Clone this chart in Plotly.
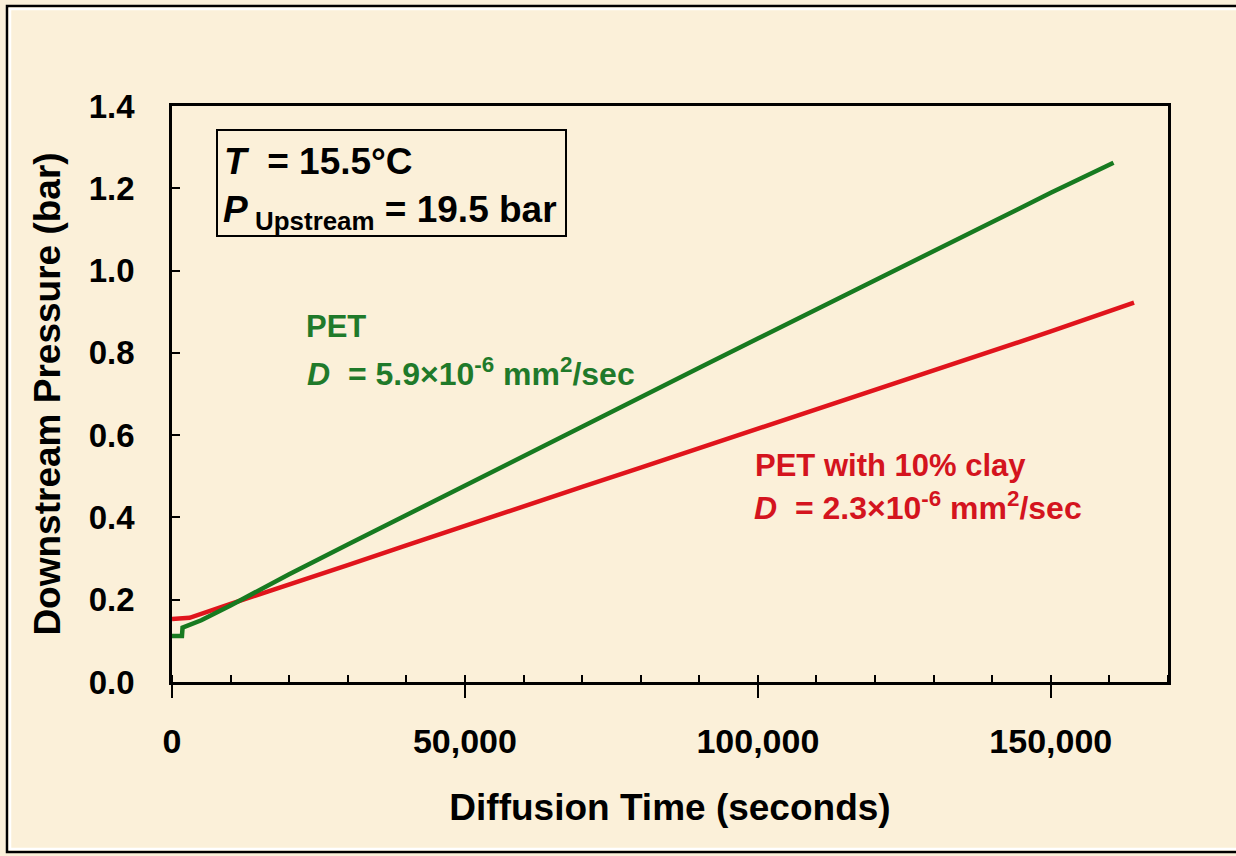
import plotly.graph_objects as go

# ---- data ----
pet_time = [0, 1700, 1800, 5000, 10000, 20000, 30000, 40000, 50000, 60000, 70000,
            80000, 90000, 100000, 110000, 120000, 130000, 140000, 150000, 160700]
pet_pressure = [0.112, 0.112, 0.132, 0.150, 0.186, 0.262, 0.334, 0.406, 0.479, 0.550, 0.622,
                0.694, 0.764, 0.835, 0.905, 0.976, 1.047, 1.118, 1.189, 1.262]

clay_time = [0, 3000, 10000, 20000, 30000, 40000, 50000, 60000, 70000, 80000, 90000,
             100000, 110000, 120000, 130000, 140000, 150000, 164200]
clay_pressure = [0.153, 0.156, 0.190, 0.236, 0.284, 0.332, 0.380, 0.427, 0.474, 0.521, 0.568,
                 0.616, 0.663, 0.710, 0.757, 0.804, 0.852, 0.922]

x_tickvals = [0, 50000, 100000, 150000]
y_tickvals = [0.0, 0.2, 0.4, 0.6, 0.8, 1.0, 1.2, 1.4]

GREEN_LINE = "#177A20"
GREEN_TEXT = "#1F7A2A"
RED_LINE = "#E0141C"
RED_TEXT = "#D4141E"
BG = "#FBF0D9"
FONT = "Arial, Liberation Sans, sans-serif"
NB = "\u00a0"
THIN = "\u2009"

fig = go.Figure()
fig.add_trace(go.Scatter(x=clay_time, y=clay_pressure, mode="lines",
                         line=dict(color=RED_LINE, width=4.5), showlegend=False))
fig.add_trace(go.Scatter(x=pet_time, y=pet_pressure, mode="lines",
                         line=dict(color=GREEN_LINE, width=4.5), showlegend=False))

# plot area: l=172, r=68, t=106, b=174 -> 996 x 576 px
L, R, T, B = 172, 68, 106, 174
W, H = 1236, 856
pw, ph = W - L - R, H - T - B

def px(xp):
    return (xp - L) / pw

def py(yp):
    return (H - B - yp) / ph

fig.update_layout(
    width=W, height=H,
    margin=dict(l=L, r=R, t=T, b=B),
    paper_bgcolor=BG, plot_bgcolor=BG,
    font=dict(family=FONT, color="black"),
    xaxis=dict(
        range=[0, 170000], tickvals=x_tickvals, tickformat=",d",
        ticks="outside", ticklen=13, tickwidth=1.5, tickcolor="black",
        minor=dict(dtick=10000, ticks="inside", ticklen=7, tickwidth=1.5, tickcolor="black"),
        showline=True, linecolor="black", linewidth=2.5, mirror=True,
        showgrid=False, zeroline=False,
        tickfont=dict(size=34, family=FONT, color="black", weight="bold"),
        ticklabelstandoff=14,
        title=dict(text="<b>Diffusion Time (seconds)</b>", font=dict(size=37, family=FONT),
                   standoff=36),
    ),
    yaxis=dict(
        range=[0, 1.4], tickvals=y_tickvals, tickformat=".1f",
        ticks="inside", ticklen=8, tickwidth=1.5, tickcolor="black",
        showline=True, linecolor="black", linewidth=2.5, mirror=True,
        showgrid=False, zeroline=False,
        tickfont=dict(size=33, family=FONT, color="black", weight="bold"),
        ticklabelstandoff=28,
        title=dict(text="<b>Downstream Pressure (bar)</b>", font=dict(size=37, family=FONT),
                   standoff=17),
    ),
)

# outer slide frame
fig.add_shape(type="rect", xref="paper", yref="paper",
              x0=px(7), x1=px(1245), y0=py(6), y1=py(852),
              line=dict(color="black", width=2.5), layer="below")
fig.add_shape(type="rect", xref="paper", yref="paper",
              x0=px(10), x1=px(1245), y0=py(9), y1=py(849),
              line=dict(color="white", width=2.5), layer="below")

# conditions box
fig.add_shape(type="rect", xref="paper", yref="paper",
              x0=px(217), x1=px(566), y0=py(130), y1=py(236),
              line=dict(color="black", width=2), fillcolor=BG)
fig.add_annotation(xref="paper", yref="paper", x=px(222), y=py(161),
                   xanchor="left", yanchor="middle", showarrow=False,
                   text="<b><i>T</i>" + NB + " = 15.5°C</b>",
                   font=dict(size=37, family=FONT, color="black"))
fig.add_annotation(xref="paper", yref="paper", x=px(221), y=py(212),
                   xanchor="left", yanchor="middle", showarrow=False,
                   text="<b><i>P</i></b>" + THIN + "<sub><b>Upstream</b></sub><b> = 19.5 bar</b>",
                   font=dict(size=37, family=FONT, color="black"))

# series labels
fig.add_annotation(xref="paper", yref="paper", x=px(304), y=py(326),
                   xanchor="left", yanchor="middle", showarrow=False,
                   text="<b>PET</b>", font=dict(size=31, family=FONT, color=GREEN_TEXT))
fig.add_annotation(xref="paper", yref="paper", x=px(305), y=py(372),
                   xanchor="left", yanchor="middle", showarrow=False,
                   text="<b><i>D</i>" + NB + " = 5.9×10<sup>-6</sup> mm<sup>2</sup>/sec</b>",
                   font=dict(size=32, family=FONT, color=GREEN_TEXT))
fig.add_annotation(xref="paper", yref="paper", x=px(753), y=py(465),
                   xanchor="left", yanchor="middle", showarrow=False,
                   text="<b>PET with 10% clay</b>", font=dict(size=31, family=FONT, color=RED_TEXT))
fig.add_annotation(xref="paper", yref="paper", x=px(752), y=py(506),
                   xanchor="left", yanchor="middle", showarrow=False,
                   text="<b><i>D</i>" + NB + " = 2.3×10<sup>-6</sup> mm<sup>2</sup>/sec</b>",
                   font=dict(size=32, family=FONT, color=RED_TEXT))

fig.write_html("out.html", config={"displayModeBar": False},
               post_script="document.body.style.margin='0';document.body.style.background='" + BG + "';")
